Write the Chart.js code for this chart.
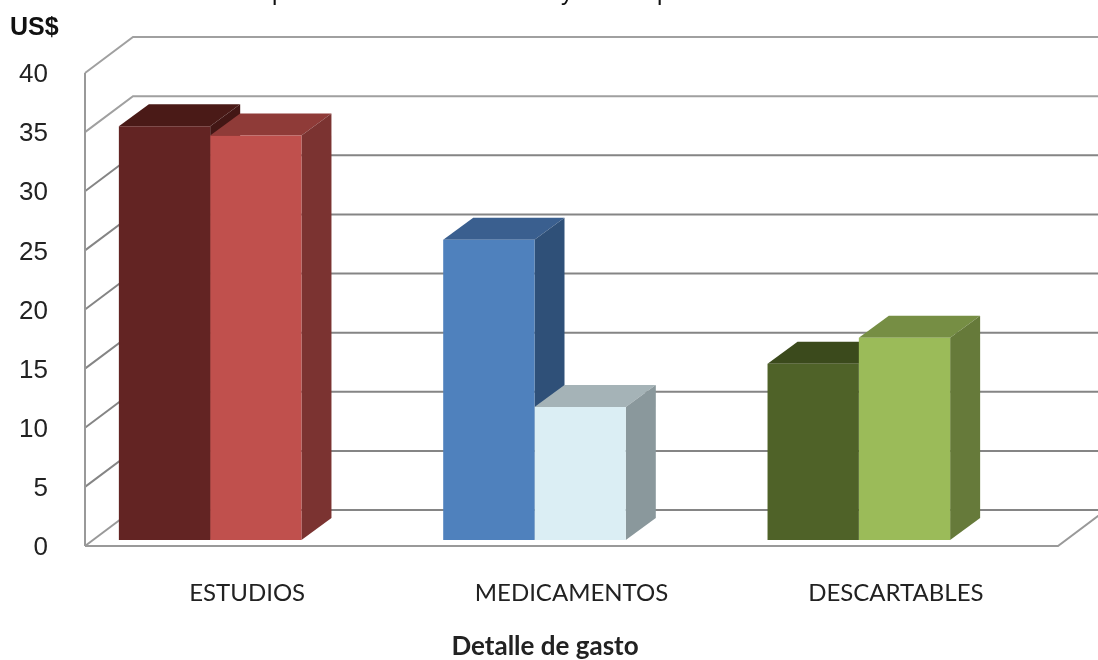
<!DOCTYPE html>
<html><head><meta charset="utf-8">
<style>html,body{margin:0;padding:0;background:#fff}#wrap{position:relative;width:1098px;height:660px}canvas{display:block;filter:blur(0.5px)}</style>
<script src="https://cdn.jsdelivr.net/npm/chart.js@4"></script>
</head><body><div id="wrap"><canvas id="c" width="1098" height="660"></canvas></div>
<script>
const categories = ['ESTUDIOS','MEDICAMENTOS','DESCARTABLES'];
const seriesA = [35, 25.4, 14.9];
const seriesB = [34.2, 11.25, 17.1];
const yTicks = [0,5,10,15,20,25,30,35,40];
const xAxisTitle = 'Detalle de gasto';
const yAxisTitle = 'US$';
const clippedTitleGlyphs = [['p',272],['y',561],['p',657]];
const frontA = ['#632423','#4f81bd','#4f6228'];
const frontB = ['#c0504d','#dbeef4','#9bbb59'];
const topA = ['#4a1a17','#3a5f8f','#3b4a1c'];
const topB = ['#8f3b38','#a5b3b7','#768e44'];
const sideA = ['#431715','#2f5078','#35431a'];
const sideB = ['#7b3331','#8a989c','#667a3a'];

const WALL = {dx:48, dy:-36};
const BAR_SHIFT = {dx:-37, dy:-6};
const DEPTH = {dx:30, dy:-22};

function line(ctx, pts, color, w){
  ctx.beginPath();
  pts.forEach((p,i)=> i ? ctx.lineTo(p[0],p[1]) : ctx.moveTo(p[0],p[1]));
  ctx.strokeStyle=color; ctx.lineWidth=w; ctx.stroke();
}
function poly(ctx, pts, color){
  ctx.beginPath();
  pts.forEach((p,i)=> i ? ctx.lineTo(p[0],p[1]) : ctx.moveTo(p[0],p[1]));
  ctx.closePath(); ctx.fillStyle=color; ctx.fill();
}
const threeD = {
  id:'threeD',
  beforeDatasetsDraw(chart){
    const {ctx, chartArea:a, scales:{y}} = chart;
    ctx.save();
    yTicks.forEach(v=>{
      const py = y.getPixelForValue(v);
      if(v===0) return;
      line(ctx,[[a.left,py],[a.left+WALL.dx,py+WALL.dy],[a.right+WALL.dx,py+WALL.dy]], v===40||v===35?'#a0a0a0':'#858585', 2);
    });
    const p0 = y.getPixelForValue(0);
    line(ctx,[[a.left+WALL.dx,p0+WALL.dy],[a.right+WALL.dx,p0+WALL.dy]],'#858585',2);
    line(ctx,[[a.left,p0],[a.left+WALL.dx,p0+WALL.dy]],'#999',2);
    line(ctx,[[a.left,y.getPixelForValue(40)],[a.left,p0]],'#999',2);
    line(ctx,[[a.left,p0],[a.right,p0],[a.right+WALL.dx,p0+WALL.dy]],'#999',2);
    // depth faces: left series first, then right series, fronts come after
    ctx.translate(BAR_SHIFT.dx,BAR_SHIFT.dy);
    [[0,topA,sideA],[1,topB,sideB]].forEach(([ds,tops,sides])=>{
      chart.getDatasetMeta(ds).data.forEach((b,i)=>{
        const l=b.x-b.width/2, r=b.x+b.width/2, t=b.y, bo=b.base;
        poly(ctx,[[l,t],[l+DEPTH.dx,t+DEPTH.dy],[r+DEPTH.dx,t+DEPTH.dy],[r,t]],tops[i]);
        poly(ctx,[[r,t],[r+DEPTH.dx,t+DEPTH.dy],[r+DEPTH.dx,bo+DEPTH.dy],[r,bo]],sides[i]);
      });
    });
    ctx.restore();
  },
  beforeDatasetDraw(chart){
    chart.ctx.save();
    chart.ctx.translate(BAR_SHIFT.dx,BAR_SHIFT.dy);
  },
  afterDatasetDraw(chart){ chart.ctx.restore(); },
  afterDraw(chart){
    const {ctx, chartArea:a} = chart;
    ctx.save();
    ctx.fillStyle='#111'; ctx.font='24px "Liberation Sans"'; ctx.textBaseline='alphabetic'; ctx.textAlign='left';
    clippedTitleGlyphs.forEach(g=>ctx.fillText(g[0],g[1],0));
    ctx.fillStyle='#222'; ctx.font='bold 26px Lato'; ctx.textAlign='center'; ctx.textBaseline='middle';
    ctx.fillText(xAxisTitle,a.left+460,a.bottom+101);
    ctx.restore();
  }
};
new Chart(document.getElementById('c'),{
  type:'bar',
  data:{labels:categories,datasets:[
    {data:seriesA,backgroundColor:frontA,clip:false},
    {data:seriesB,backgroundColor:frontB,clip:false}
  ]},
  plugins:[threeD],
  options:{
    responsive:false,animation:false,
    categoryPercentage:0.563,barPercentage:1,
    layout:{padding:{left:10,right:40,top:0,bottom:0}},
    plugins:{
      legend:{display:false},tooltip:{enabled:false},
      title:{display:true,text:yAxisTitle,align:'start',color:'#111',
        font:{family:'"Liberation Sans"',size:25,weight:'bold'},
        padding:{top:13,bottom:30}}
    },
    scales:{
      x:{grid:{display:false},border:{display:false},
        ticks:{color:'#222',font:{family:'Lato',size:24},padding:25,maxRotation:0,autoSkip:false},
        afterFit(s){s.height=114;}
      },
      y:{min:0,max:40,grid:{display:false},border:{display:false},
        ticks:{stepSize:5,color:'#222',font:{family:'"Liberation Sans"',size:26},padding:29,labelOffset:2},
        afterFit(s){s.width=75;}
      }
    }
  }
});
</script></body></html>
